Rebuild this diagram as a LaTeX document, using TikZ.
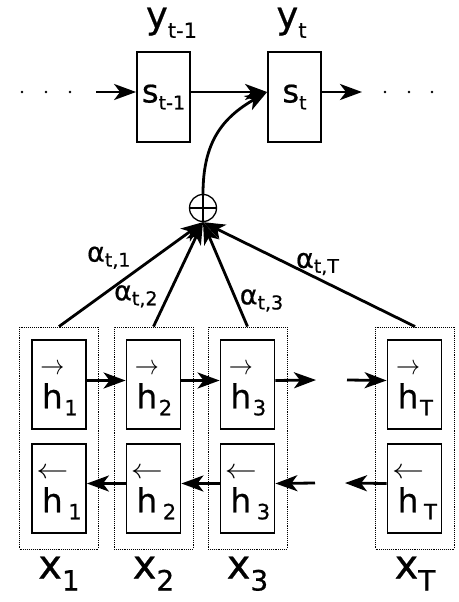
\documentclass[tikz,border=0pt]{standalone}
\usepackage{fontspec}
\setmainfont{DejaVu Sans}[RawFeature={embolden=0.6}]
\usepackage{amsmath}
\usepackage{graphicx}
\usetikzlibrary{arrows.meta,positioning}

% label with a lowered index; size and drop are set by the node style
\def\subsize{16}
\def\subdrop{6pt}
\newcommand{\lbl}[2]{#1\raisebox{-\subdrop}{\fontsize{\subsize}{\subsize}\selectfont #2}}
\newcommand{\hvec}[2]{\begin{tabular}[b]{@{}c@{}}{\fontsize{10}{12}\selectfont\scalebox{#2}[2.8]{$#1$}}\\[-2pt]h\end{tabular}}
\newcommand{\fwd}[1]{\lbl{\hvec{\rightarrow}{2.4}}{#1}}
\newcommand{\bwd}[1]{\lbl{\hvec{\leftarrow}{3.2}}{#1}}

\begin{document}
\begin{tikzpicture}[x=1pt, y=-1pt,
        state/.style={rectangle, draw, line width=1.8pt, minimum width=53pt, minimum height=90pt, inner sep=0pt,
            font=\fontsize{32}{34}\selectfont\def\subsize{19}\def\subdrop{7pt}},
        hid/.style={rectangle, draw, line width=1.8pt, minimum width=54pt, minimum height=89pt, inner sep=0pt,
            font=\fontsize{33}{35}\selectfont\def\subsize{21}\def\subdrop{7pt}},
        cell/.style={rectangle, draw, densely dotted, line width=0.9pt, minimum width=79pt, minimum height=222pt},
        arrow/.style={-{Stealth[length=22pt, width=16pt, inset=6pt]}, line width=2.8pt},
        weight/.style={inner sep=2pt, font=\fontsize{27}{29}\selectfont\def\subsize{19}\def\subdrop{5pt}},
        ylab/.style={inner sep=1pt, font=\fontsize{37}{39}\selectfont\def\subsize{21}\def\subdrop{10pt}},
        xlab/.style={inner sep=1pt, font=\fontsize{40}{42}\selectfont\def\subsize{28}\def\subdrop{12pt}}
    ]
        \useasboundingbox (0,0) rectangle (458,602);

        % Decoder
        \node[state] (st1) at (163.5,97) {\lbl{s}{t-1}};
        \node[state] (st2) at (294.5,97) {\lbl{s}{t}};
        \node[ylab, above=12pt of st1, xshift=8pt] (y1) {\lbl{y}{t-1}};
        \node[ylab, above=12pt of st2, xshift=-3pt] (y2) {\lbl{y}{t}};

        \foreach \x in {22,46,70,385,409,432}
            \fill (\x,92) circle (1.4pt);
        \coordinate (lin) at (96,92);
        \coordinate (rout) at (362,92);

        \draw[arrow] (lin) -- ([yshift=5pt]st1.west);
        \draw[arrow] ([yshift=5pt]st1.east) -- ([yshift=5pt]st2.west);
        \draw[arrow] ([yshift=5pt]st2.east) -- (rout);

        % Context sum
        \node[circle, draw, line width=1.3pt, minimum size=27pt, inner sep=0pt] (sum) at (203,208) {};
        \draw[line width=2.6pt] (sum.north) -- (sum.south) (sum.west) -- (sum.east);
        \draw[arrow] (sum.north) to[out=90, in=210, looseness=1.1] ([yshift=5pt]st2.west);

        % Encoder
        \node[cell] (c1) at (59,438) {};
        \node[cell] (c2) at (153.5,438) {};
        \node[cell] (c3) at (247.5,438) {};
        \node[cell] (cT) at (415,438) {};

        \node[hid] (f1) at (59,384.5) {\fwd{1}};
        \node[hid] (f2) at (153.5,384.5) {\fwd{2}};
        \node[hid] (f3) at (247.5,384.5) {\fwd{3}};
        \node[hid] (fT) at (414.5,384.5) {\fwd{T}};
        \node[hid] (b1) at (59,488.5) {\bwd{1}};
        \node[hid] (b2) at (153.5,488.5) {\bwd{2}};
        \node[hid] (b3) at (247.5,488.5) {\bwd{3}};
        \node[hid] (bT) at (414.5,488.5) {\bwd{T}};

        \node[xlab, below=6pt of c1] (x1) {\lbl{x}{1}};
        \node[xlab, below=6pt of c2] (x2) {\lbl{x}{2}};
        \node[xlab, below=6pt of c3] (x3) {\lbl{x}{3}};
        \node[xlab, below=6pt of cT] (xT) {\lbl{x}{T}};

        \coordinate (fout) at (316,380);
        \coordinate (fin) at (347,380);
        \coordinate (bin) at (315,483);
        \coordinate (bout) at (345,483);

        \foreach \i/\j in {1/2,2/3}
            \draw[arrow] ([yshift=4pt]f\i.east) -- ([yshift=4pt]f\j.west);
        \draw[arrow] ([yshift=4pt]f3.east) -- (fout);
        \draw[arrow] (fin) -- ([yshift=4pt]fT.west);

        \foreach \i/\j in {2/1,3/2}
            \draw[arrow] ([yshift=5pt]b\i.west) -- ([yshift=5pt]b\j.east);
        \draw[arrow] (bin) -- ([yshift=5pt]b3.east);
        \draw[arrow] ([yshift=5pt]bT.west) -- (bout);

        % Attention weights
        \draw[arrow] (c1.north) -- node[weight, pos=.52, above left] (a1) {\lbl{α}{t,1}} (sum.south);
        \draw[arrow] (c2.north) -- node[weight, pos=.15, above left] (a2) {\lbl{α}{t,2}} (sum.south);
        \draw[arrow] (c3.north) -- node[weight, pos=.25, right] (a3) {\lbl{α}{t,3}} (sum.south);
        \draw[arrow] (cT.north) -- node[weight, pos=.46, above] (aT) {\lbl{α}{t,T}} (sum.south);
    \end{tikzpicture}
\end{document}
